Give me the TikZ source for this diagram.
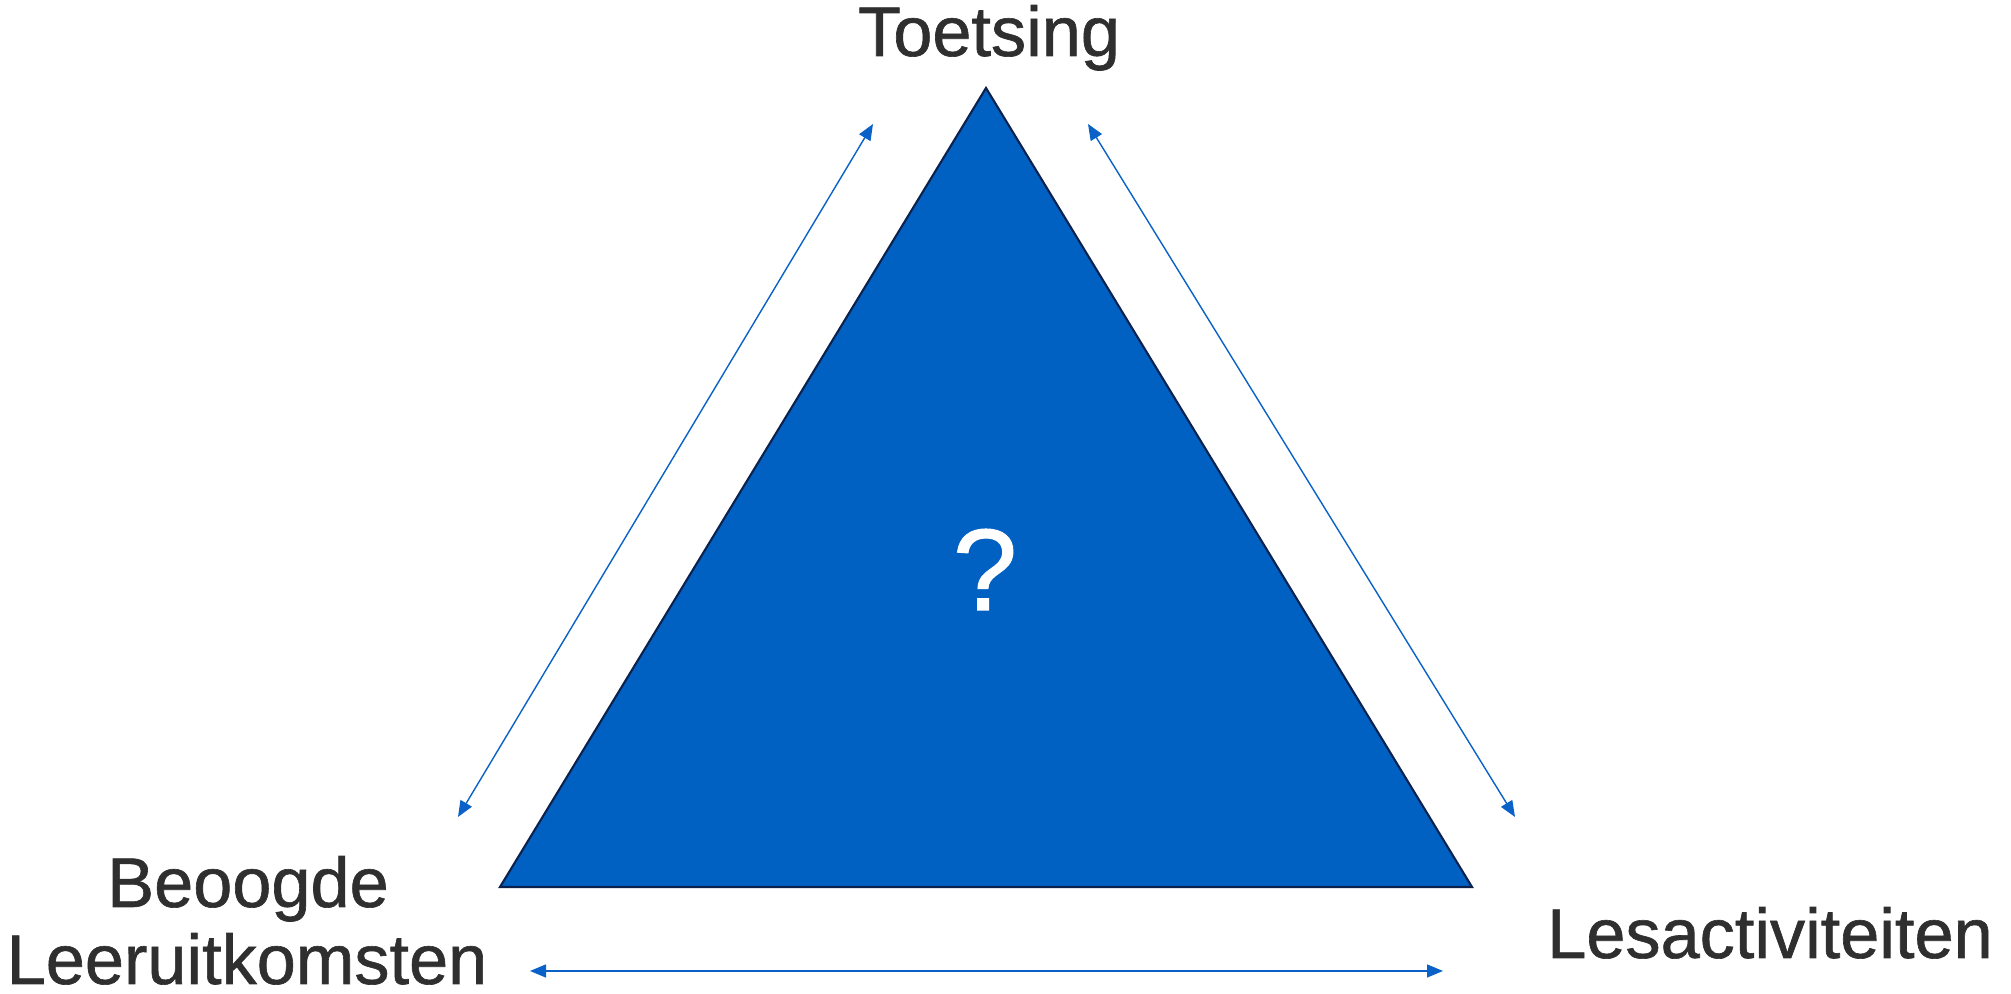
\documentclass[tikz,border=0pt]{standalone}
\usepackage{fontspec}
\setmainfont{Liberation Sans}
\newfontfamily\labelfont[FakeBold=0.9]{Liberation Sans}
\usetikzlibrary{arrows.meta}

\definecolor{triblue}{RGB}{0,97,194}
\definecolor{trinavy}{RGB}{12,34,78}
\definecolor{arrowblue}{RGB}{10,98,200}
\definecolor{labelgray}{RGB}{47,47,47}

\tikzset{
  label text/.style={text=labelgray, font=\labelfont\fontsize{20}{24}\selectfont, anchor=base, inner sep=0pt},
  link/.style={draw=arrowblue, line width=0.4pt, {Triangle[length=1.6mm,width=1.3mm]}-{Triangle[length=1.6mm,width=1.3mm]}}
}

\begin{document}
\begin{tikzpicture}
\useasboundingbox (0,0) rectangle (20.11,9.94);

% triangle
\coordinate (top) at (9.86,9.06);
\coordinate (left) at (5.00,1.07);
\coordinate (right) at (14.72,1.07);
\draw[fill=triblue, draw=trinavy, line width=0.6pt] (top) -- (left) -- (right) -- cycle;
\node (quest) [anchor=base, text=white, font=\labelfont\fontsize{33}{38}\selectfont, inner sep=0pt] at (9.85,3.84) {?};

% labels
\node (toets) [label text] at (9.89,9.38) {Toetsing};
\node (beoogde) [label text] at (2.48,0.87) {Beoogde};
\node (leer) [label text] at (2.47,0.10) {Leeruitkomsten};
\node (les) [label text] at (17.70,0.36) {Lesactiviteiten};

% arrows
\coordinate (a1) at (8.73,8.70);
\coordinate (a2) at (4.58,1.77);
\coordinate (b1) at (10.88,8.70);
\coordinate (b2) at (15.15,1.77);
\coordinate (c1) at (5.30,0.23);
\coordinate (c2) at (14.43,0.23);
\draw[link] (a1) -- (a2);
\draw[link] (b1) -- (b2);
\draw[link] (c1) -- (c2);
\end{tikzpicture}
\end{document}
